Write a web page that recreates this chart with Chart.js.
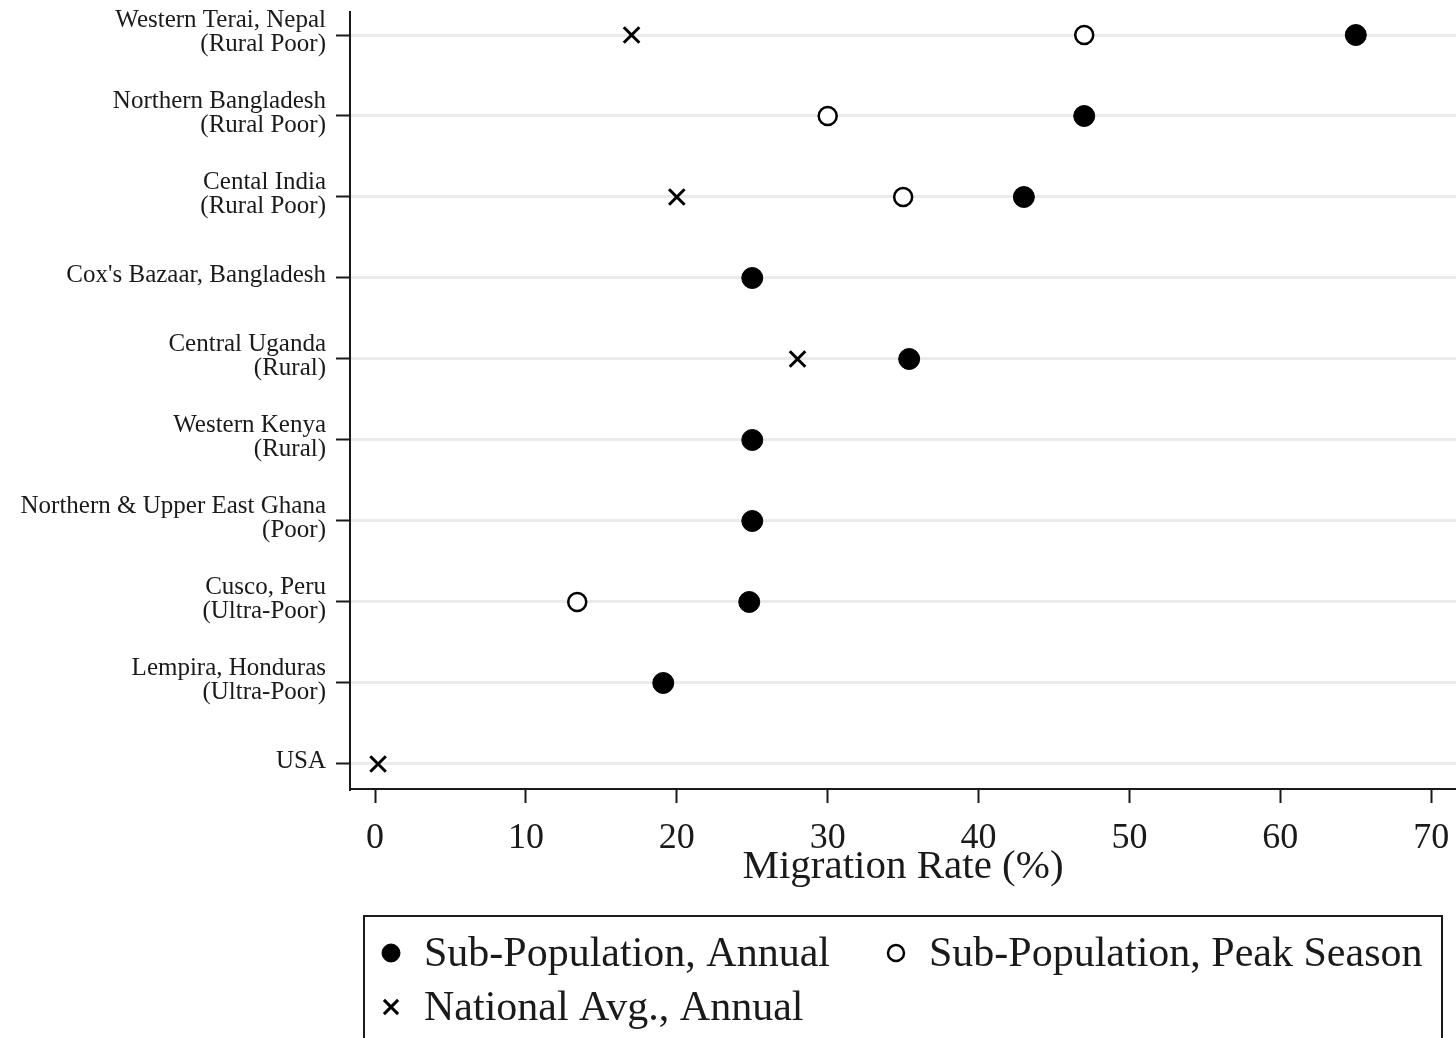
<!DOCTYPE html>
<html>
<head>
<meta charset="utf-8">
<title>Migration Rate</title>
<script src="https://cdn.jsdelivr.net/npm/chart.js@4.4.0/dist/chart.umd.min.js"></script>
<style>
  html, body { margin: 0; padding: 0; background: #fff; overflow: hidden; }
  #wrap { width: 1456px; height: 1038px; position: relative; }
</style>
</head>
<body>
<div id="wrap"><canvas id="chart"></canvas></div>
<script>
// Rows, top to bottom
const categories = [
    ['Western Terai, Nepal', '(Rural Poor)'],
    ['Northern Bangladesh', '(Rural Poor)'],
    ['Cental India', '(Rural Poor)'],
    ["Cox's Bazaar, Bangladesh"],
    ['Central Uganda', '(Rural)'],
    ['Western Kenya', '(Rural)'],
    ['Northern & Upper East Ghana', '(Poor)'],
    ['Cusco, Peru', '(Ultra-Poor)'],
    ['Lempira, Honduras', '(Ultra-Poor)'],
    ['USA']
];

// Migration rate (%) per row, null where there is no marker
const subAnnual   = [65, 47, 43, 25, 35.4, 25, 25, 24.8, 19.1, null];
const subPeak     = [47, 30, 35, null, null, null, null, 13.4, null, null];
const nationalAvg = [17, null, 20, null, 28, null, null, null, null, 0.2];

const xTicks = [0, 10, 20, 30, 40, 50, 60, 70];

const serif = "'Liberation Serif', 'DejaVu Serif', serif";
const ink = '#1a1a1a';

function toPoints(values) {
    return values
        .map((v, i) => (v === null ? null : { x: v, y: i }))
        .filter(p => p !== null);
}

// scales should not steal room from the plot for overhanging labels
function noLabelPadding(scale) {
    scale.paddingTop = 0;
    scale.paddingBottom = 0;
    scale.paddingLeft = 0;
    scale.paddingRight = 0;
}

// Legend drawn in a framed box under the axis title
const boxedLegend = {
    id: 'boxedLegend',
    afterDraw(chart) {
        const ctx = chart.ctx;
        const area = chart.chartArea;
        const left = area.left + 14;
        const right = area.right - 14;
        const top = chart.scales.x.bottom + 24;
        const rowGap = 54;

        ctx.save();
        ctx.strokeStyle = ink;
        ctx.lineWidth = 2;
        ctx.strokeRect(left, top, right - left, 128);

        ctx.font = '42px ' + serif;
        ctx.textBaseline = 'middle';
        ctx.textAlign = 'left';

        let x = left + 27;
        let y = top + 37;
        chart.data.datasets.forEach((ds, i) => {
            const textWidth = ctx.measureText(ds.label).width;
            if (i > 0 && x + 33 + textWidth > right - 10) {
                x = left + 27;
                y += rowGap;
            }
            ctx.fillStyle = ds.backgroundColor;
            ctx.strokeStyle = ds.borderColor;
            ctx.lineWidth = ds.legendBorder;
            Chart.helpers.drawPoint(ctx, {
                pointStyle: ds.pointStyle,
                radius: ds.legendRadius,
                rotation: 0,
                borderWidth: ds.legendBorder
            }, x, y);
            ctx.fillStyle = ink;
            ctx.fillText(ds.label, x + 33, y + 2);
            x += 33 + textWidth + 66;
        });
        ctx.restore();
    }
};

const ctx = document.getElementById('chart').getContext('2d');
new Chart(ctx, {
    type: 'scatter',
    data: {
        datasets: [
            {
                label: 'Sub-Population, Annual',
                data: toPoints(subAnnual),
                pointStyle: 'circle',
                pointRadius: 10.5,
                backgroundColor: '#000',
                borderColor: '#000',
                borderWidth: 1,
                legendRadius: 9,
                legendBorder: 1
            },
            {
                label: 'Sub-Population, Peak Season',
                data: toPoints(subPeak),
                pointStyle: 'circle',
                pointRadius: 9,
                backgroundColor: '#fff',
                borderColor: '#000',
                borderWidth: 2.5,
                legendRadius: 8,
                legendBorder: 2.5
            },
            {
                label: 'National Avg., Annual',
                data: toPoints(nationalAvg),
                pointStyle: 'crossRot',
                pointRadius: 11,
                backgroundColor: '#000',
                borderColor: '#000',
                borderWidth: 3,
                legendRadius: 10,
                legendBorder: 3
            }
        ]
    },
    options: {
        responsive: true,
        maintainAspectRatio: false,
        animation: false,
        layout: {
            autoPadding: false,
            padding: { top: 12, right: 0, bottom: 146, left: 0 }
        },
        plugins: {
            legend: { display: false },
            tooltip: { enabled: false }
        },
        scales: {
            x: {
                type: 'linear',
                min: -1.66,
                max: 71.64,
                afterBuildTicks: scale => {
                    scale.ticks = xTicks.map(v => ({ value: v }));
                },
                afterFit: scale => {
                    scale.height = 103;
                    noLabelPadding(scale);
                },
                ticks: {
                    color: ink,
                    padding: 14,
                    maxRotation: 0,
                    font: { family: serif, size: 36 }
                },
                grid: {
                    drawOnChartArea: false,
                    tickLength: 14,
                    tickColor: ink,
                    tickWidth: 2
                },
                border: { color: ink, width: 2 },
                title: {
                    display: true,
                    text: 'Migration Rate (%)',
                    color: ink,
                    padding: 0,
                    font: { family: serif, size: 41, lineHeight: 1.2 }
                }
            },
            y: {
                type: 'linear',
                reverse: true,
                min: -0.284,
                max: 9.309,
                afterBuildTicks: scale => {
                    scale.ticks = categories.map((c, i) => ({ value: i }));
                },
                afterFit: scale => {
                    scale.width = 350;
                    noLabelPadding(scale);
                },
                ticks: {
                    color: ink,
                    padding: 10,
                    labelOffset: -3,
                    font: { family: serif, size: 25, lineHeight: 0.96 },
                    callback: value => categories[value]
                },
                grid: {
                    color: '#ebebeb',
                    lineWidth: 3,
                    tickLength: 14,
                    tickColor: ink,
                    tickWidth: 2
                },
                border: { color: ink, width: 2 }
            }
        }
    },
    plugins: [boxedLegend]
});
</script>
</body>
</html>
